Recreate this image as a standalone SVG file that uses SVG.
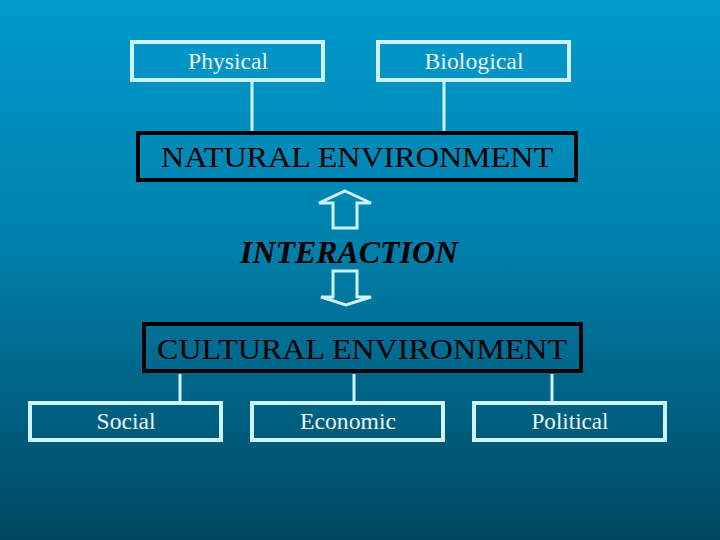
<svg xmlns="http://www.w3.org/2000/svg" width="720" height="540" viewBox="0 0 720 540">
<defs>
<linearGradient id="bg" x1="0" y1="0" x2="0" y2="1">
<stop offset="0" stop-color="#009acd"/>
<stop offset="0.45" stop-color="#0080ab"/>
<stop offset="1" stop-color="#004760"/>
</linearGradient>
<style>
.lbox{fill:none;stroke:#ccf3ff;stroke-width:4}
.dbox{fill:none;stroke:#000;stroke-width:4}
.conn{stroke:#ccf3ff;stroke-width:3;fill:none}
.arr{fill:none;stroke:#ccf3ff;stroke-width:3;stroke-linejoin:miter}
.lt{font-family:"Liberation Serif","Times New Roman",serif;font-size:24px;fill:#e6f9ff;text-anchor:middle}
.bt{font-family:"Liberation Serif","Times New Roman",serif;font-size:30px;fill:#000;text-anchor:middle}
.it{font-family:"Liberation Serif","Times New Roman",serif;font-size:31px;font-style:italic;font-weight:bold;fill:#000;text-anchor:middle}
</style>
</defs>
<rect width="720" height="540" fill="url(#bg)"/>
<g id="connectors">
<line class="conn" x1="252" y1="81" x2="252" y2="131"/>
<line class="conn" x1="444" y1="81" x2="444" y2="131"/>
<line class="conn" x1="180" y1="374" x2="180" y2="401"/>
<line class="conn" x1="354" y1="374" x2="354" y2="401"/>
<line class="conn" x1="552" y1="374" x2="552" y2="401"/>
<polygon class="arr" points="345,191 371,203 357,203 357,228 333,228 333,203 319,203"/>
<polygon class="arr" points="333,271 357,271 357,297 371,297 346,305 321,297 333,297"/>
</g>
<g id="physical">
<rect class="lbox" x="132" y="42" width="191" height="38"/>
<text class="lt" x="228" y="69" textLength="80" lengthAdjust="spacingAndGlyphs">Physical</text>
</g>
<g id="biological">
<rect class="lbox" x="378" y="42" width="191" height="38"/>
<text class="lt" x="474" y="69" textLength="99" lengthAdjust="spacingAndGlyphs">Biological</text>
</g>
<g id="natural">
<rect class="dbox" x="138" y="133" width="438" height="47"/>
<text class="bt" x="357" y="167" textLength="392" lengthAdjust="spacingAndGlyphs">NATURAL ENVIRONMENT</text>
</g>
<g id="interaction">
<text class="it" x="349" y="263" textLength="218" lengthAdjust="spacingAndGlyphs">INTERACTION</text>
</g>
<g id="cultural">
<rect class="dbox" x="144" y="324" width="437" height="47"/>
<text class="bt" x="362" y="359" textLength="410" lengthAdjust="spacingAndGlyphs">CULTURAL ENVIRONMENT</text>
</g>
<g id="social">
<rect class="lbox" x="30" y="403" width="191" height="37"/>
<text class="lt" x="126" y="429" textLength="59" lengthAdjust="spacingAndGlyphs">Social</text>
</g>
<g id="economic">
<rect class="lbox" x="252" y="403" width="191" height="37"/>
<text class="lt" x="348" y="429" textLength="96" lengthAdjust="spacingAndGlyphs">Economic</text>
</g>
<g id="political">
<rect class="lbox" x="474" y="403" width="191" height="37"/>
<text class="lt" x="570" y="429" textLength="77" lengthAdjust="spacingAndGlyphs">Political</text>
</g>
</svg>
